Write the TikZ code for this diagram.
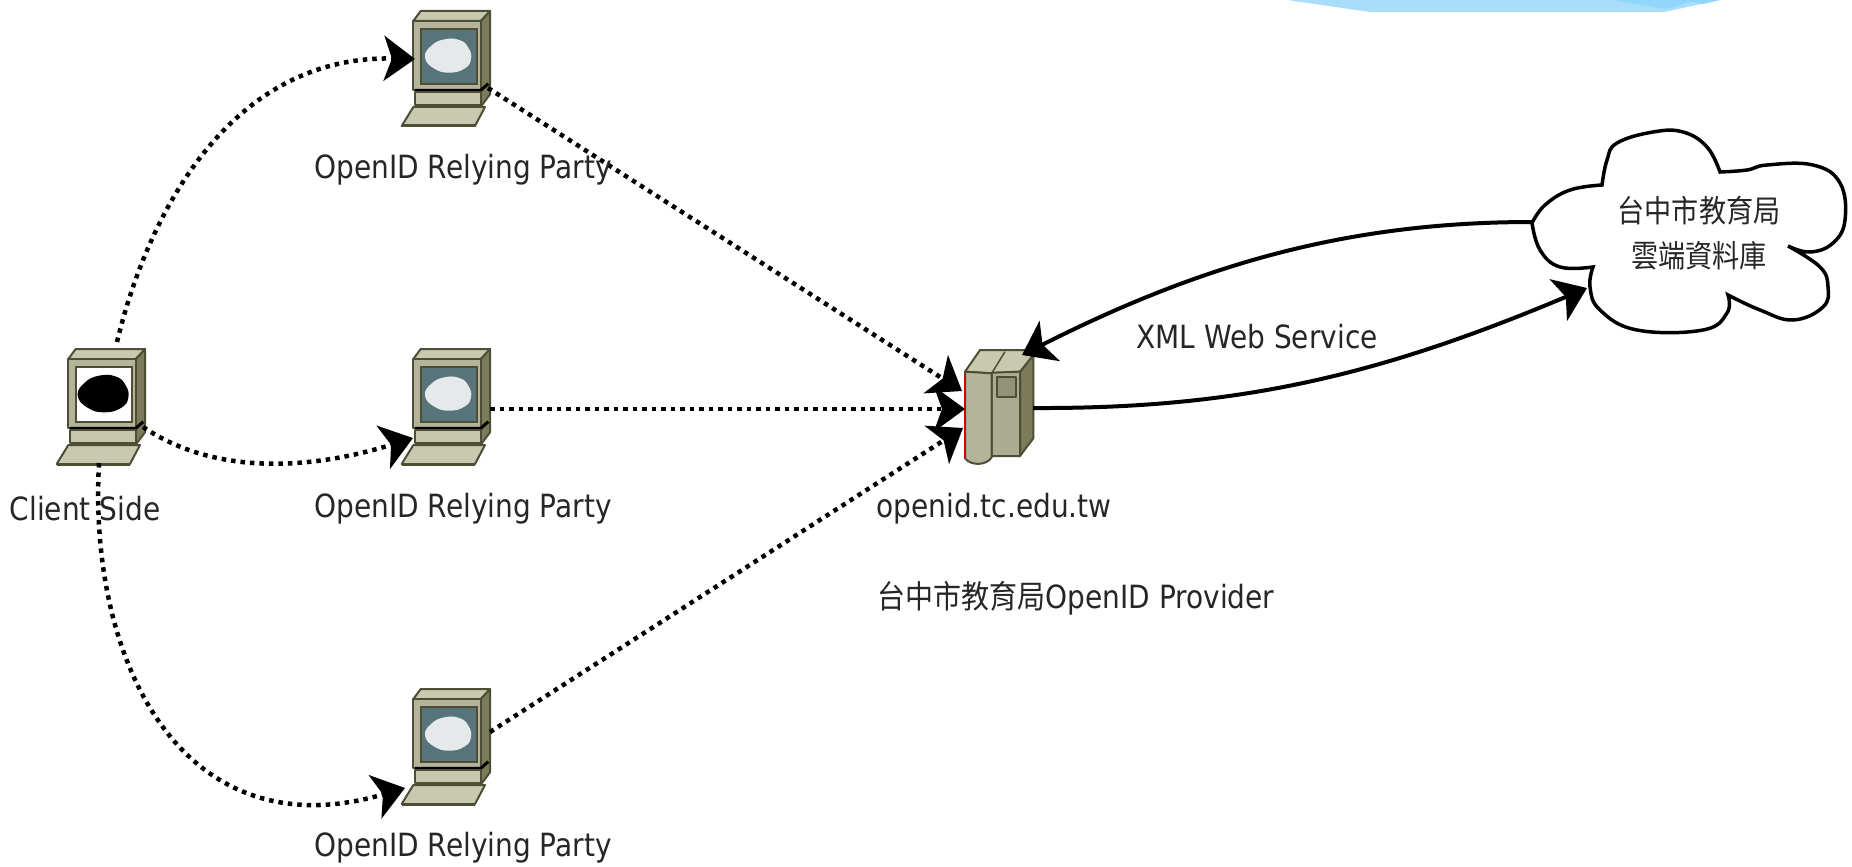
\documentclass[tikz,border=0pt]{standalone}
\usepackage{graphicx}
\usepackage{fontspec}
\setmainfont{DejaVu Sans}
\newfontfamily\cjk{Noto Sans CJK TC}
\usetikzlibrary{arrows.meta}
\definecolor{bodyc}{HTML}{B4B49A}
\definecolor{lightc}{HTML}{C9C9B0}
\definecolor{sidec}{HTML}{7C7C5C}
\definecolor{edgec}{HTML}{4E4E36}
\definecolor{screenc}{HTML}{56747A}
\definecolor{blobc}{HTML}{E6E9E9}
\definecolor{skyc}{HTML}{A9DDFC}
\definecolor{skydark}{HTML}{90D5FC}
\newcommand{\narrow}[1]{\scalebox{.875}[1]{#1}}
\tikzset{
  bighead/.tip={Stealth[length=31pt,width=45pt,inset=8pt]},
  dotline/.style={line width=4.5pt,dash pattern=on 4.5pt off 5pt,-{bighead}},
  solidline/.style={line width=4pt,-{bighead}},
  label/.style={font=\fontsize{32}{36}\selectfont,inner sep=0pt,text=black!85,anchor=center},
  iconpart/.style={draw=edgec,line width=2pt,line join=round},
  pics/computer/.style n args={3}{code={
    \begin{scope}[scale=1/3]
      \node[inner sep=0pt,minimum width=88pt,minimum height=115pt] (-box) at (197,203) {};
      \filldraw[iconpart,fill=sidec] (302,60) -- (330,30) -- (330,280) -- (300,320) -- cycle;
      \filldraw[iconpart,fill=lightc] (100,60) -- (122,30) -- (330,30) -- (302,60) -- cycle;
      \filldraw[iconpart,fill=bodyc] (100,60) rectangle (302,268);
      \filldraw[draw=edgec,line width=2pt,fill=#1] (122,85) rectangle (290,248);
      \begin{scope}[shift={(203,165)},scale=#3]
        \fill[#2] plot[smooth cycle,tension=.8] coordinates {(-68,5) (-50,-30) (-10,-50) (35,-48) (62,-25) (70,10) (50,38) (5,50) (-40,38)};
      \end{scope}
      \draw[black,line width=3pt] (105,268) -- (302,268) -- (325,248);
      \filldraw[iconpart,fill=lightc!90!bodyc] (105,274) rectangle (302,312);
      \filldraw[iconpart,fill=lightc] (65,375) -- (100,318) -- (315,318) -- (285,375) -- cycle;
      \draw[edgec,line width=3pt] (65,375) -- (285,375);
    \end{scope}
  }},
  pics/server/.style={code={
    \begin{scope}[scale=1/3]
      \node[inner sep=0pt,minimum width=68pt,minimum height=115pt] (-box) at (298,232) {};
      \filldraw[iconpart,fill=sidec] (360,125) -- (400,75) -- (400,325) -- (360,378) -- cycle;
      \filldraw[iconpart,fill=lightc] (195,125) -- (240,60) -- (380,60) -- (400,75) -- (360,125) -- (275,130) -- cycle;
      \draw[edgec,line width=1.5pt] (275,130) -- (315,65);
      \filldraw[iconpart,fill=bodyc!85!sidec] (275,128) -- (360,125) -- (360,378) -- (275,378) -- cycle;
      \filldraw[iconpart,fill=sidec!60!bodyc] (292,140) rectangle (348,200);
      \filldraw[iconpart,fill=bodyc] (195,125) -- (275,130) -- (275,382) .. controls (262,405) and (215,410) .. (195,385) -- cycle;
      \draw[red!85!black,line width=2pt] (195,132) -- (195,385);
    \end{scope}
  }}
}
\begin{document}
\begin{tikzpicture}[x=1pt,y=-1pt]
\useasboundingbox (0,0) rectangle (1852,867);
% top decoration
\fill[skyc] (1287,0) -- (1370,12) -- (1664,12) -- (1720,0) -- cycle;
\fill[skydark] (1612,0) -- (1666,9) -- (1690,2) -- (1686,0) -- cycle;
\fill[skydark] (1686,0) -- (1703,4) -- (1720,0) -- cycle;
% icons
\pic (cs) at (35,339) {computer={white}{black}{1.1}};
\pic (rp1) at (380,1) {computer={screenc}{blobc}{1}};
\pic (rp2) at (380,339) {computer={screenc}{blobc}{1}};
\pic (rp3) at (380,679) {computer={screenc}{blobc}{1}};
\pic (srv) at (900,330) {server};
% cloud
\draw[line width=3.5pt,line join=miter]
  plot[smooth,tension=.7] coordinates {(1532,223) (1545,205) (1570,190) (1602,185)}
  -- plot[smooth,tension=.7] coordinates {(1602,185) (1607,160) (1617,143) (1653,132) (1683,132) (1707,147) (1720,172)}
  -- plot[smooth,tension=.7] coordinates {(1720,172) (1747,170) (1767,165) (1813,165) (1840,183) (1845,220) (1833,243) (1810,252) (1788,246)}
  -- plot[smooth,tension=.7] coordinates {(1788,246) (1820,267) (1828,287) (1823,307) (1793,320) (1760,310) (1728,295)}
  -- plot[smooth,tension=.7] coordinates {(1728,295) (1727,313) (1703,330) (1637,330) (1600,310) (1590,287) (1593,267)}
  -- plot[smooth,tension=.7] coordinates {(1593,267) (1560,267) (1540,250) (1532,223)};
\node[inner sep=0pt,align=center,font={\cjk\fontsize{31}{45}\selectfont},text=black!85] (cloudtext) at (1699,233) {\narrow{台中市教育局}\\\narrow{雲端資料庫}};
% named connector ends
\coordinate (csT) at (117,342);
\coordinate (csR) at (143,427);
\coordinate (csB) at (99,463);
\coordinate (rp1in) at (415,59);
\coordinate (rp1out) at (488,88);
\coordinate (rp2in) at (413,438);
\coordinate (rp2out) at (490,409);
\coordinate (rp3in) at (405,788);
\coordinate (rp3out) at (490,732);
\coordinate (srvA) at (962,391);
\coordinate (srvB) at (965,409);
\coordinate (srvC) at (963,428);
\coordinate (srvTop) at (1022,355);
\coordinate (srvOut) at (1033,408);
\coordinate (cloudL) at (1532,222);
\coordinate (cloudB) at (1587,288);
% connectors
\draw[dotline] (csT) .. controls (150,205) and (235,55) .. (rp1in);
\draw[dotline] (csR) .. controls (220,479) and (320,467) .. (rp2in);
\draw[dotline] (csB) .. controls (88,665) and (184,853) .. (rp3in);
\draw[dotline] (rp1out) -- (srvA);
\draw[dotline] (rp2out) -- (srvB);
\draw[dotline] (rp3out) -- (srvC);
\draw[solidline] (cloudL) .. controls (1350,222) and (1204,263) .. (srvTop);
\draw[solidline] (srvOut) .. controls (1240,409) and (1380,375) .. (cloudB);
% labels
\node[label] (csl) at (85,509) {\narrow{Client Side}};
\node[label] (rp1l) at (463,170) {\narrow{OpenID Relying Party}};
\node[label] (rp2l) at (463,509) {\narrow{OpenID Relying Party}};
\node[label] (rp3l) at (463,848) {\narrow{OpenID Relying Party}};
\node[label] (srvl) at (994,509) {\narrow{openid.tc.edu.tw}};
\node[label] (provl) at (1076,598) {\narrow{{\cjk 台中市教育局}OpenID Provider}};
\node[label] (xml) at (1257,337) {\narrow{XML Web Service}};
\end{tikzpicture}
\end{document}
